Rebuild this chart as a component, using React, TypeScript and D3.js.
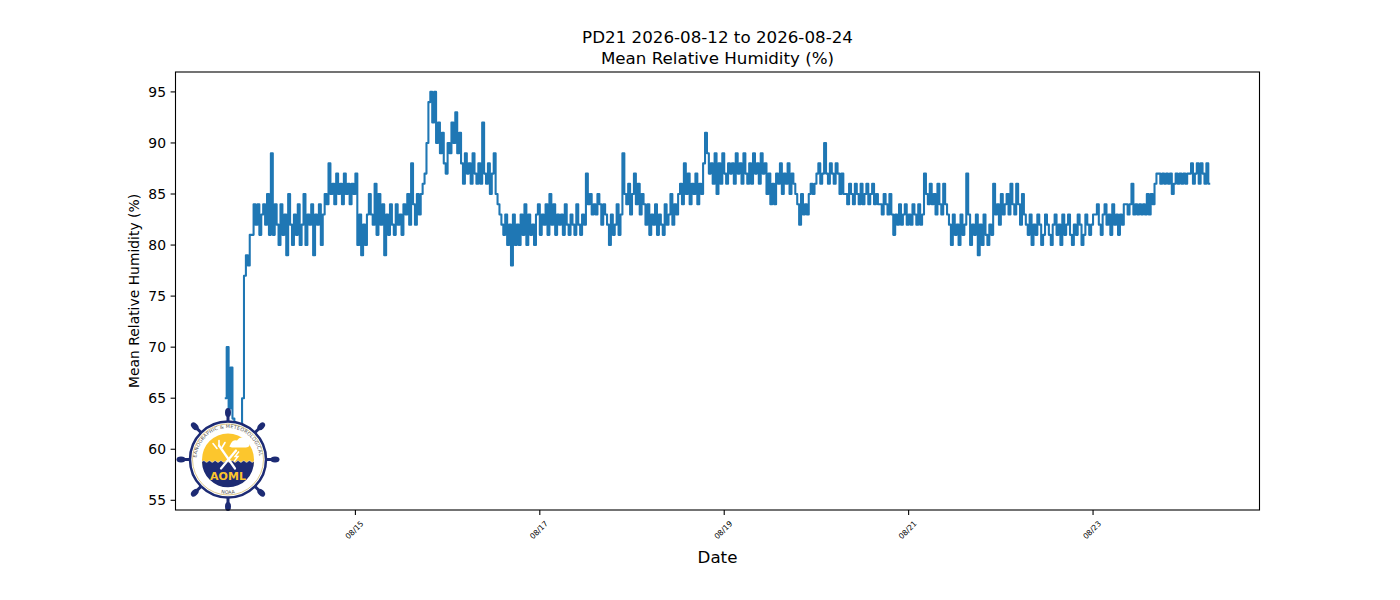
import React from "react";
import * as d3 from "d3";

// ---------- data ----------
const titleLines = ["PD21 2026-08-12 to 2026-08-24", "Mean Relative Humidity (%)"];
const yLabel = "Mean Relative Humidity (%)";
const xLabel = "Date";
const startTime = "2026-08-13T14:00:00Z";
const stepMinutes = 30;
const yTicks = [55, 60, 65, 70, 75, 80, 85, 90, 95];
const xTickDates = ["2026-08-15", "2026-08-17", "2026-08-19", "2026-08-21", "2026-08-23"];
const xTickLabels = ["08/15", "08/17", "08/19", "08/21", "08/23"];

const humidity: number[] = [
  65, 70, 64, 68, 63, 58, 56, 57, 60, 65,
  77, 79, 78, 81, 81,
  84, 82, 84, 81, 83, 84, 82, 85, 81, 89, 81, 84,
  82, 80, 84, 81, 83, 79, 85, 82, 80, 83, 81, 84, 80, 82, 85, 80, 83,
  82, 84, 79, 83, 82, 84, 80,
  83, 85, 84, 88,
  85, 86, 84, 87, 85, 86, 84, 87, 85, 86, 84, 86, 85, 87,
  80, 83, 79, 82, 80,
  83, 85, 83,
  82, 86, 81, 85, 82, 84,
  79,
  83, 81, 84, 82, 81, 84, 82, 83, 81, 84,
  83, 85, 82, 88, 84, 82, 85, 83, 85, 86,
  87, 90, 94,
  95, 92, 95, 90,
  92, 89, 91, 88,
  87, 90,
  89, 92, 90, 93, 89, 91,
  88, 86, 89, 87, 88, 86, 89, 87, 86, 88, 86, 92, 87,
  86, 88, 85, 87, 89, 85,
  84, 83, 82,
  81, 83, 80, 82, 78, 83, 80,
  82, 80, 83, 81, 84, 80, 83, 81, 82, 80, 83, 84, 81, 83,
  82, 84, 81, 85, 82, 84, 81, 83, 82,
  83, 81, 84, 82, 81, 83, 82, 81, 84, 82, 81, 83, 82, 87, 84,
  85, 83, 84, 83, 85, 84,
  82, 84, 83, 82, 80,
  83, 81, 82, 84, 81, 83, 89, 85,
  84, 86, 83, 85, 87, 84, 86, 83, 85, 84,
  82, 84, 81, 83, 82, 84, 81, 83, 82, 81, 84, 82,
  83, 85, 82, 84, 83, 85,
  86, 84,
  88,
  85, 87, 84, 86, 85, 87, 84, 86, 85,
  88, 91, 89,
  87, 88, 86, 89, 85, 88, 86, 89, 87, 86, 88, 87,
  88, 86, 89, 87, 88, 86, 89, 87, 86,
  88, 86, 89, 87, 88, 86, 89, 87, 88,
  85, 87, 84, 86, 84, 87,
  86, 88, 85, 87, 86, 88, 85, 87, 86, 85,
  84, 82, 85, 83, 84, 83, 85,
  86, 85, 86,
  87, 88, 86, 87, 90, 87, 86, 88, 87, 86, 88, 87,
  85, 87, 85,
  85, 84, 86, 85, 84, 86, 85, 84, 86, 84, 85, 86, 84, 85, 86, 84, 85, 84,
  84, 83, 85, 84, 83, 85, 83, 81,
  83, 82, 84, 82, 83, 84, 82, 83, 82, 84, 83, 82, 84, 82, 83,
  87,
  85, 84, 86, 84,
  85, 83, 86, 84, 83, 86, 84, 83,
  82, 80, 83, 81, 82, 80, 83, 81, 82,
  87,
  83, 80, 82, 81, 83, 79, 82, 80, 83, 81, 80, 82, 81,
  86, 83, 84, 82, 85, 83, 84, 85, 83, 86, 84, 83,
  86, 84, 82, 85, 83,
  82, 81, 83, 80, 82, 81, 83, 82, 80, 81, 83, 82, 81, 80, 82, 83, 81, 82,
  80, 83, 81, 82, 83, 81, 80, 82, 81, 83, 82, 80, 81, 83, 82, 81, 82, 83,
  83, 84, 82, 81, 83, 84, 82, 83, 81, 84, 82, 83,
  81, 83, 82, 84,
  84, 83, 84, 86,
  83, 84, 83, 84, 83, 84, 83,
  85, 83, 85, 84,
  86, 87,
  87, 86, 87, 86, 87, 86, 87, 85, 86, 87, 86, 87, 86, 87, 86, 87,
  87, 88, 86, 87, 88, 86, 88, 87, 86, 88, 86, 86,
];

// ---------- layout ----------
const W = 1400;
const H = 600;
const axL = 175.5;
const axR = 1259.5;
const axT = 72;
const axB = 510;
const FONT = "'DejaVu Sans', sans-serif";
const LINE = "#1f77b4";

const t0 = new Date(startTime).getTime();
const points = humidity.map((v, i) => ({ t: new Date(t0 + i * stepMinutes * 60000), v }));

function pad(ext: [number, number], f = 0.05): [number, number] {
  const d = ext[1] - ext[0];
  return [ext[0] - d * f, ext[1] + d * f];
}

function Logo({ cx, cy }: { cx: number; cy: number }) {
  const navy = "#1d2b74";
  const yellow = "#fcc62d";
  const spokes = d3.range(8).map((k) => (k * Math.PI) / 4);
  const r0 = 38;
  const rIn = 26;
  const waveY = 2;
  const wave: [number, number][] = d3.range(-rIn, rIn + 0.1, 1).map((x) => [x, waveY + Math.sin(x * 1.1) * 0.9]);
  const waveLine = d3.line()(wave) as string;
  const bottomPath =
    `M${-rIn},${waveY} ` +
    wave.map(([x, y]) => `L${x},${y}`).join(" ") +
    ` A${rIn},${rIn} 0 0 1 ${-rIn},${waveY} Z`;
  const ringR = 31.5;
  return (
    <g transform={`translate(${cx},${cy})`}>
      {spokes.map((a, i) => (
        <g key={i} transform={`rotate(${(a * 180) / Math.PI})`}>
          <line x1={r0} y1={0} x2={r0 + 8} y2={0} stroke={navy} strokeWidth={3} />
          <ellipse cx={r0 + 9} cy={0} rx={4.5} ry={3} fill={navy} />
        </g>
      ))}
      <circle r={r0} fill="#ffffff" stroke={navy} strokeWidth={2.5} />
      <circle r={r0 - 2.5} fill="none" stroke="#c9a640" strokeWidth={0.6} />
      <defs>
        <path id="aomlRing" d={`M ${-ringR},0 A ${ringR},${ringR} 0 1 1 ${ringR},0`} />
        <path id="aomlRingB" d={`M ${-ringR - 3},0 A ${ringR + 3},${ringR + 3} 0 0 0 ${ringR + 3},0`} />
      </defs>
      <text fontFamily={FONT} fontSize={4.8} fill="#555" letterSpacing={0.25}>
        <textPath href="#aomlRing" startOffset="50%" textAnchor="middle">
          ATLANTIC OCEANOGRAPHIC &amp; METEOROLOGICAL LABORATORY
        </textPath>
      </text>
      <text fontFamily={FONT} fontSize={4.8} fill="#555">
        <textPath href="#aomlRingB" startOffset="50%" textAnchor="middle">
          NOAA
        </textPath>
      </text>
      <circle r={rIn} fill={yellow} />
      <path d={bottomPath} fill={navy} />
      <path d={waveLine} fill="none" stroke="#ffffff" strokeWidth={0.5} />
      <g stroke="#ffffff" strokeWidth={2.2} strokeLinecap="round" fill="none">
        <line x1={-9} y1={-14} x2={7} y2={9} />
        <line x1={8} y1={-9} x2={-7} y2={9} />
        <path d="M-15,-16 L-11,-11 M-9,-19 L-9,-14 M-3,-17 L-6,-12" strokeWidth={1.6} />
      </g>
      <path d="M2,-14 q2,-6 7,-5 q3,-5 8,-2 q5,0 4,5 q2,3 -3,4 l-14,0 q-4,-1 -2,-2 z" fill="#ffffff" />
      <path d="M11,-8 l-4,5 l3,0 l-4,5" stroke="#ffffff" strokeWidth={1.4} fill="none" />
      <text x={0} y={20} textAnchor="middle" fontFamily={FONT} fontWeight="bold" fontSize={11} fill={yellow}>
        AOML
      </text>
    </g>
  );
}

export default function App() {
  const tExt = d3.extent(points, (d) => d.t.getTime()) as [number, number];
  const vExt = d3.extent(points, (d) => d.v) as [number, number];
  const x = d3.scaleUtc().domain(pad(tExt).map((n) => new Date(n))).range([axL, axR]);
  const y = d3.scaleLinear().domain(pad(vExt)).range([axB, axT]);
  const line = d3
    .line<{ t: Date; v: number }>()
    .x((d) => x(d.t))
    .y((d) => y(d.v))
    .curve(d3.curveStepAfter);
  const cxAx = (axL + axR) / 2;
  const xTicks = xTickDates.map((s, i) => ({ t: new Date(s + "T00:00:00Z"), label: xTickLabels[i] }));

  return (
    <svg width={W} height={H} style={{ position: "absolute", left: 0, top: 0, background: "#fff" }}>
      <rect x={0} y={0} width={W} height={H} fill="#ffffff" />
      <text x={cxAx} y={43} textAnchor="middle" fontFamily={FONT} fontSize={16.7} fill="#000">
        {titleLines[0]}
      </text>
      <text x={cxAx} y={64} textAnchor="middle" fontFamily={FONT} fontSize={16.7} fill="#000">
        {titleLines[1]}
      </text>

      <defs>
        <clipPath id="plotClip">
          <rect x={axL} y={axT} width={axR - axL} height={axB - axT} />
        </clipPath>
      </defs>

      <path d={line(points) as string} fill="none" stroke={LINE} strokeWidth={2.08} strokeLinejoin="round" clipPath="url(#plotClip)" />

      <Logo cx={228} cy={459.5} />

      <rect x={axL} y={axT} width={axR - axL} height={axB - axT} fill="none" stroke="#000" strokeWidth={1.1} />

      {yTicks.map((v) => (
        <g key={v}>
          <line x1={axL - 4.9} x2={axL} y1={y(v)} y2={y(v)} stroke="#000" strokeWidth={1.1} />
          <text x={axL - 9.5} y={y(v)} dy="0.35em" textAnchor="end" fontFamily={FONT} fontSize={13.9} fill="#000">
            {v}
          </text>
        </g>
      ))}

      {xTicks.map((tk) => {
        const px = x(tk.t);
        return (
          <g key={tk.label}>
            <line x1={px} x2={px} y1={axB} y2={axB + 4.9} stroke="#000" strokeWidth={1.1} />
            <text
              transform={`translate(${px - 1},${530}) rotate(-45)`}
              textAnchor="middle"
              dy="0.35em"
              fontFamily={FONT}
              fontSize={7.6}
              fill="#000"
            >
              {tk.label}
            </text>
          </g>
        );
      })}

      <text
        transform={`translate(${139},${(axT + axB) / 2}) rotate(-90)`}
        textAnchor="middle"
        fontFamily={FONT}
        fontSize={13.9}
        fill="#000"
      >
        {yLabel}
      </text>
      <text x={cxAx} y={563} textAnchor="middle" fontFamily={FONT} fontSize={16.7} fill="#000">
        {xLabel}
      </text>
    </svg>
  );
}
